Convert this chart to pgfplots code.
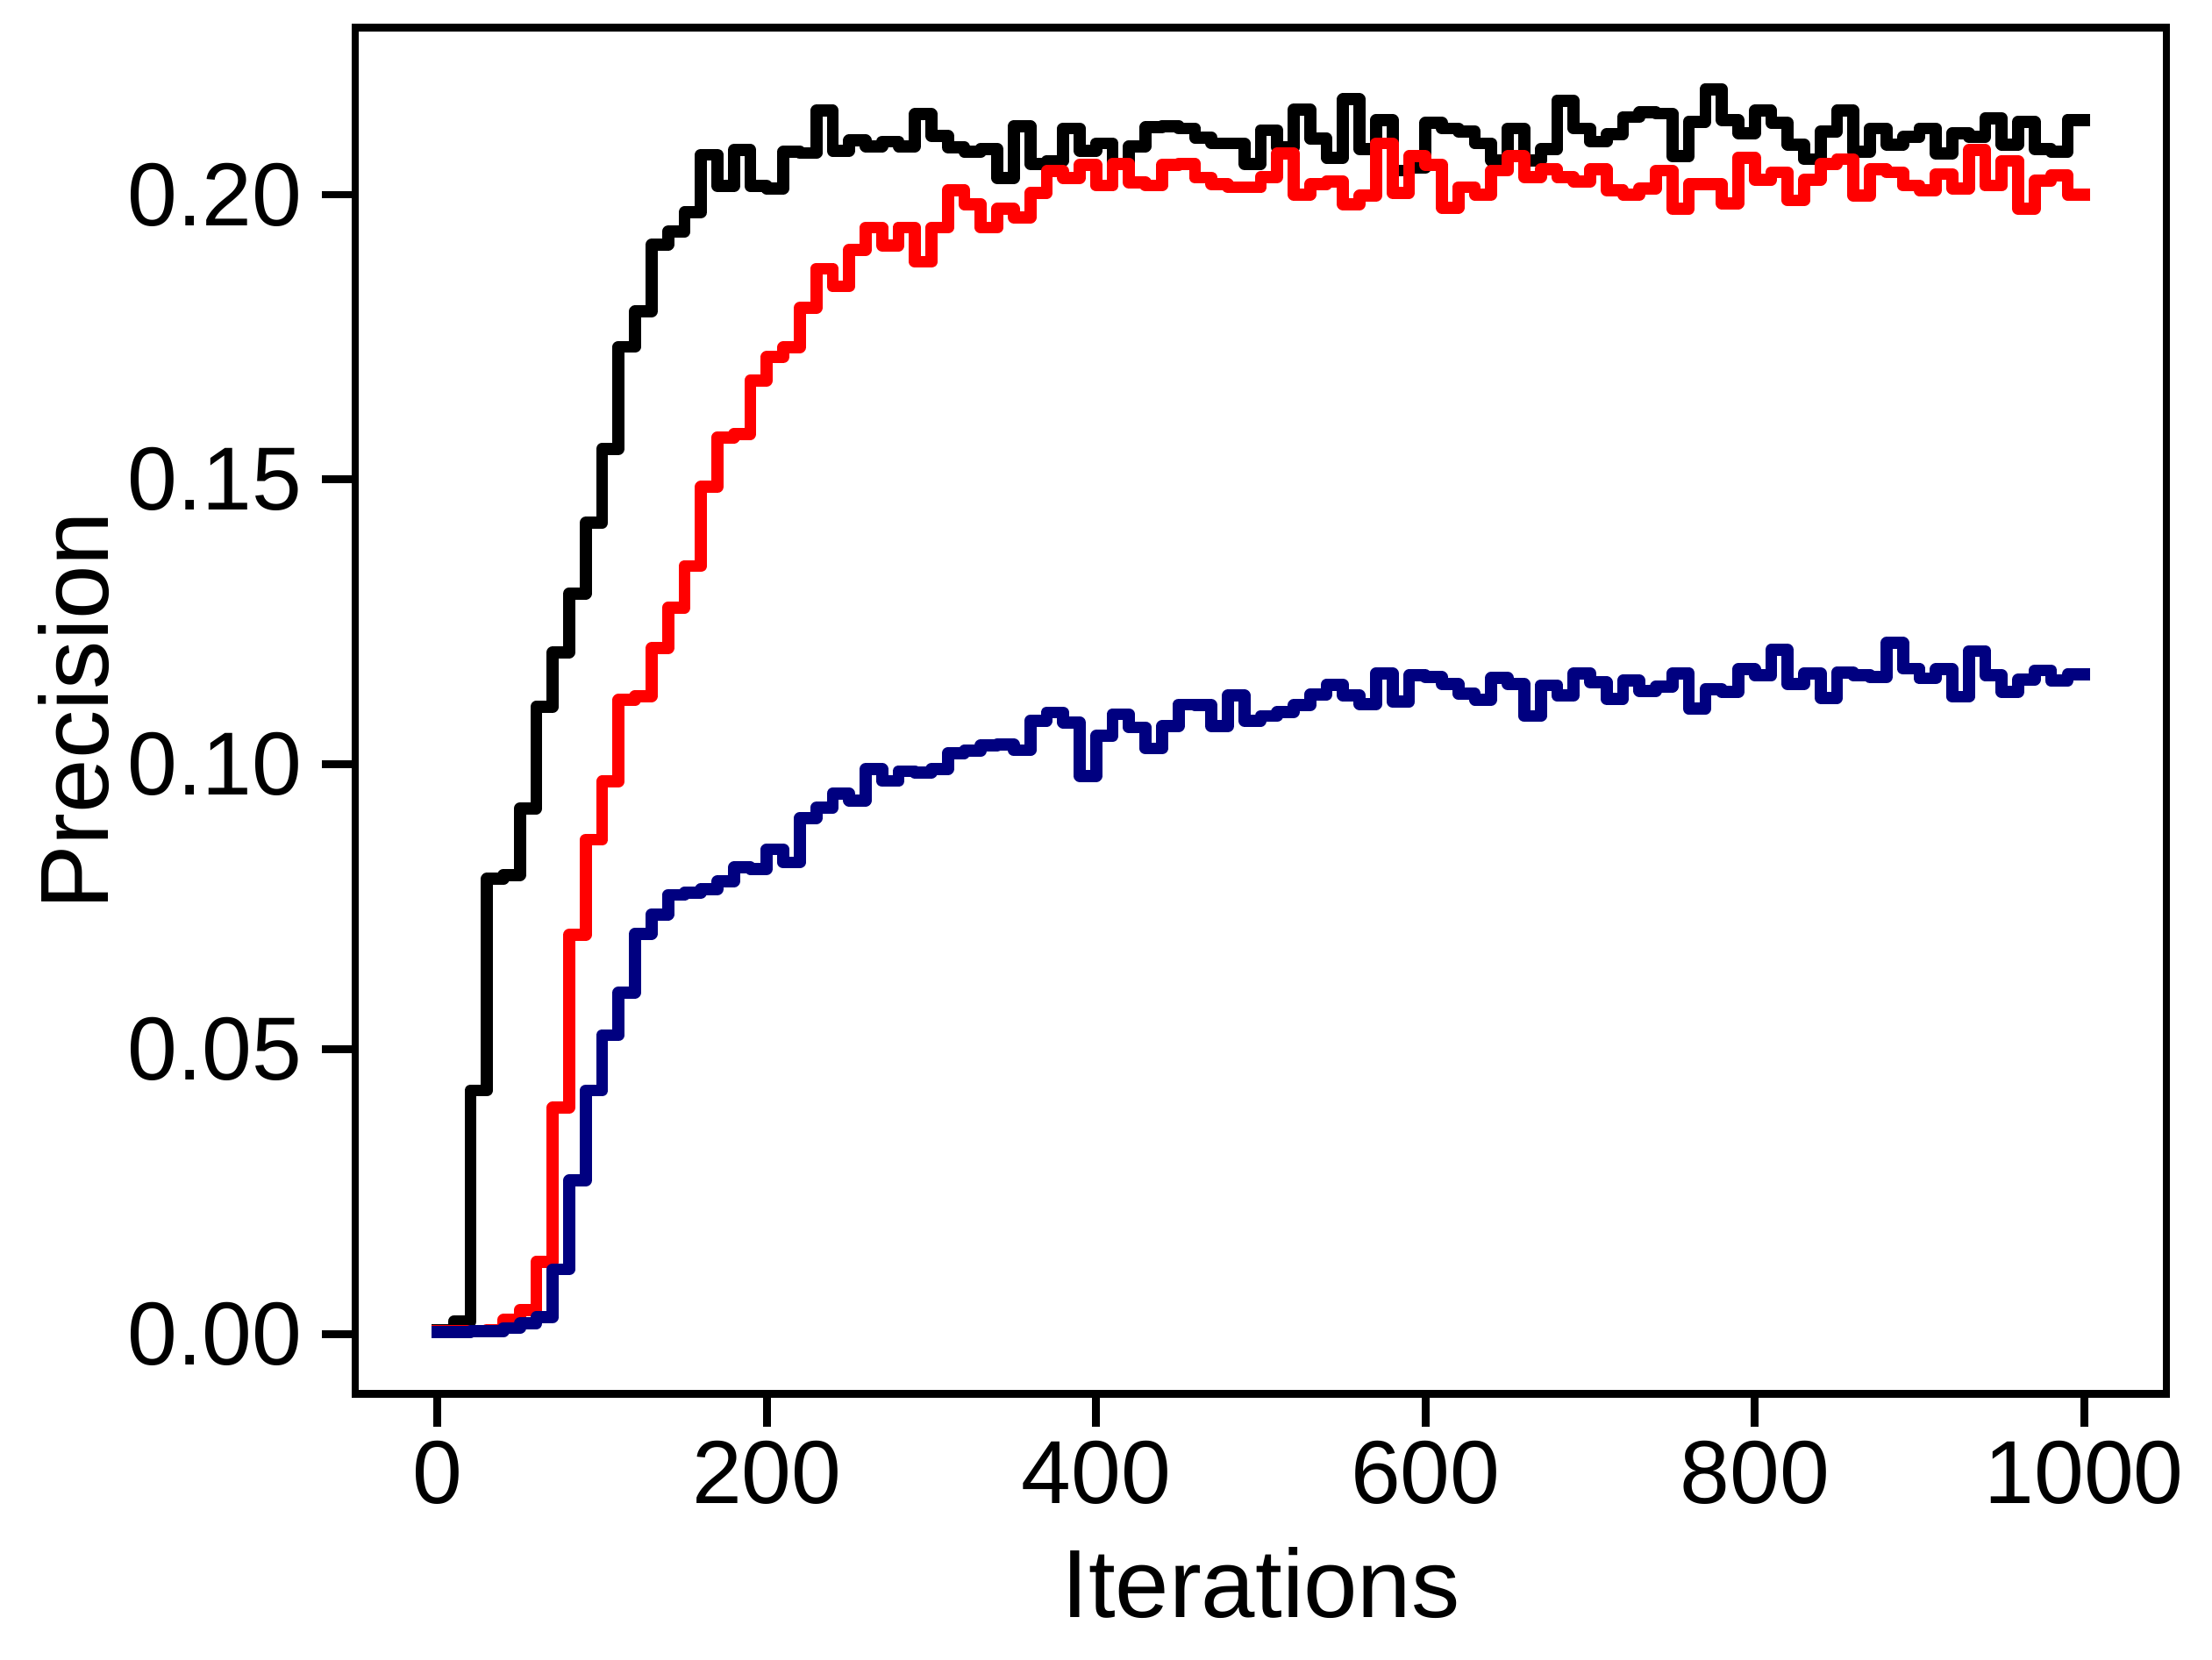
\documentclass[border=0pt]{standalone}
\usepackage{fontspec}
\setmainfont{Liberation Sans}
\usepackage{pgfplots}
\pgfplotsset{compat=1.18}
\definecolor{navyb}{HTML}{000080}
\begin{document}
\begin{tikzpicture}
\begin{axis}[
  scale only axis, width=495.6bp, height=374bp,
  xmin=-50, xmax=1050, ymin=-0.0105, ymax=0.2293,
  axis line style={line width=2.1bp},
  every tick/.style={black, line width=2.1bp},
  major tick length=9bp, tick align=outside,
  xtick pos=bottom, ytick pos=left,
  xtick={0,200,400,600,800,1000},
  ytick={0,0.05,0.1,0.15,0.2},
  scaled y ticks=false, scaled x ticks=false,
  /pgf/number format/assume math mode=true,
  /pgf/number format/1000 sep={},
  yticklabel style={/pgf/number format/fixed, /pgf/number format/fixed zerofill, /pgf/number format/precision=2,
     anchor=east, inner sep=0pt, xshift=-5.4bp},
  xticklabel style={anchor=north, inner sep=0pt, yshift=-3.7bp},
  ticklabel style={font=\fontsize{24.5bp}{29bp}\selectfont},
  xlabel={Iterations}, ylabel={Precision},
  label style={font=\fontsize{26.5bp}{31bp}\selectfont},
  xlabel style={at={(axis description cs:0.5,-0.1118)}, anchor=north, inner sep=0pt},
  ylabel style={at={(axis description cs:-0.1356,0.5)}, anchor=south, inner sep=0pt},
]
\addplot[black, const plot, line width=3.3bp, line join=round, line cap=rect, mark=none] coordinates {
(0,0.0008) (10,0.0023) (20,0.0428) (30,0.0799) (40,0.0806) (50,0.0923) (60,0.1101) (70,0.1197) (80,0.1300) (90,0.1424)
(100,0.1554) (110,0.1733) (120,0.1795) (130,0.1912) (140,0.1935) (150,0.1969) (160,0.2070) (170,0.2015) (180,0.2078) (190,0.2015)
(200,0.2011) (210,0.2075) (220,0.2073) (230,0.2147) (240,0.2077) (250,0.2095) (260,0.2085) (270,0.2093) (280,0.2085) (290,0.2141)
(300,0.2103) (310,0.2083) (320,0.2075) (330,0.2080) (340,0.2029) (350,0.2120) (360,0.2054) (370,0.2059) (380,0.2116) (390,0.2077)
(400,0.2090) (410,0.2054) (420,0.2085) (430,0.2118) (440,0.2120) (450,0.2116) (460,0.2100) (470,0.2090) (480,0.2090) (490,0.2054)
(500,0.2113) (510,0.2083) (520,0.2149) (530,0.2098) (540,0.2065) (550,0.2167) (560,0.2080) (570,0.2131) (580,0.2042) (590,0.2047)
(600,0.2126) (610,0.2116) (620,0.2111) (630,0.2090) (640,0.2060) (650,0.2116) (660,0.2060) (670,0.2080) (680,0.2165) (690,0.2116)
(700,0.2093) (710,0.2106) (720,0.2136) (730,0.2144) (740,0.2142) (750,0.2067) (760,0.2128) (770,0.2185) (780,0.2131) (790,0.2108)
(800,0.2147) (810,0.2126) (820,0.2088) (830,0.2062) (840,0.2111) (850,0.2147) (860,0.2075) (870,0.2116) (880,0.2088) (890,0.2101)
(900,0.2116) (910,0.2072) (920,0.2108) (930,0.2101) (940,0.2134) (950,0.2088) (960,0.2128) (970,0.2080) (980,0.2075) (990,0.2131)
(1000,0.2131)
};
\addplot[red, const plot, line width=3.3bp, line join=round, line cap=rect, mark=none] coordinates {
(0,0.0005) (10,0.0005) (20,0.0005) (30,0.0008) (40,0.0025) (50,0.0043) (60,0.0127) (70,0.0398) (80,0.0701) (90,0.0868)
(100,0.0970) (110,0.1113) (120,0.1120) (130,0.1204) (140,0.1275) (150,0.1348) (160,0.1487) (170,0.1574) (180,0.1580) (190,0.1674)
(200,0.1715) (210,0.1732) (220,0.1801) (230,0.1870) (240,0.1839) (250,0.1903) (260,0.1942) (270,0.1911) (280,0.1942) (290,0.1882)
(300,0.1942) (310,0.2008) (320,0.1983) (330,0.1942) (340,0.1975) (350,0.1960) (360,0.2003) (370,0.2041) (380,0.2029) (390,0.2052)
(400,0.2016) (410,0.2054) (420,0.2021) (430,0.2016) (440,0.2052) (450,0.2054) (460,0.2030) (470,0.2018) (480,0.2013) (490,0.2013)
(500,0.2031) (510,0.2072) (520,0.2000) (530,0.2018) (540,0.2023) (550,0.1983) (560,0.1998) (570,0.2090) (580,0.2003) (590,0.2067)
(600,0.2052) (610,0.1977) (620,0.2013) (630,0.2000) (640,0.2042) (650,0.2067) (660,0.2031) (670,0.2044) (680,0.2031) (690,0.2023)
(700,0.2044) (710,0.2008) (720,0.2000) (730,0.2011) (740,0.2042) (750,0.1975) (760,0.2018) (770,0.2018) (780,0.1985) (790,0.2065)
(800,0.2026) (810,0.2039) (820,0.1990) (830,0.2026) (840,0.2054) (850,0.2062) (860,0.1998) (870,0.2044) (880,0.2039) (890,0.2016)
(900,0.2008) (910,0.2036) (920,0.2011) (930,0.2078) (940,0.2016) (950,0.2059) (960,0.1975) (970,0.2024) (980,0.2034) (990,0.2000)
(1000,0.2000)
};
\addplot[navyb, const plot, line width=3.3bp, line join=round, line cap=rect, mark=none] coordinates {
(0,0.0004) (10,0.0004) (20,0.0005) (30,0.0005) (40,0.0011) (50,0.0019) (60,0.0030) (70,0.0114) (80,0.0270) (90,0.0428)
(100,0.0525) (110,0.0600) (120,0.0703) (130,0.0737) (140,0.0771) (150,0.0775) (160,0.0781) (170,0.0795) (180,0.0819) (190,0.0817)
(200,0.0851) (210,0.0828) (220,0.0906) (230,0.0924) (240,0.0949) (250,0.0937) (260,0.0992) (270,0.0971) (280,0.0988) (290,0.0986)
(300,0.0992) (310,0.1020) (320,0.1024) (330,0.1034) (340,0.1035) (350,0.1025) (360,0.1077) (370,0.1091) (380,0.1074) (390,0.0980)
(400,0.1050) (410,0.1088) (420,0.1065) (430,0.1028) (440,0.1067) (450,0.1105) (460,0.1104) (470,0.1067) (480,0.1121) (490,0.1077)
(500,0.1085) (510,0.1092) (520,0.1104) (530,0.1123) (540,0.1140) (550,0.1121) (560,0.1106) (570,0.1160) (580,0.1110) (590,0.1156)
(600,0.1153) (610,0.1141) (620,0.1124) (630,0.1114) (640,0.1152) (650,0.1141) (660,0.1085) (670,0.1139) (680,0.1121) (690,0.1160)
(700,0.1144) (710,0.1115) (720,0.1147) (730,0.1129) (740,0.1137) (750,0.1160) (760,0.1098) (770,0.1132) (780,0.1127) (790,0.1167)
(800,0.1156) (810,0.1201) (820,0.1141) (830,0.1160) (840,0.1117) (850,0.1161) (860,0.1157) (870,0.1153) (880,0.1213) (890,0.1168)
(900,0.1151) (910,0.1167) (920,0.1119) (930,0.1199) (940,0.1157) (950,0.1127) (960,0.1149) (970,0.1165) (980,0.1147) (990,0.1158)
(1000,0.1158)
};
\end{axis}
\pgfresetboundingbox
\useasboundingbox ([xshift=-97.2bp,yshift=-72.72bp]current axis.south west) rectangle ([xshift=12.48bp,yshift=7.56bp]current axis.north east);
\end{tikzpicture}
\end{document}
